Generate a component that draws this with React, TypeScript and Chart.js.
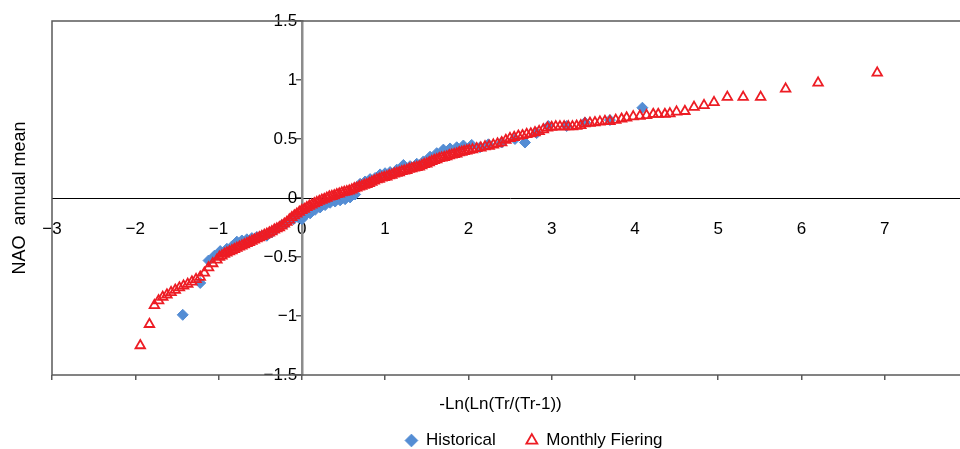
import React, { useEffect, useRef } from 'react';
import { Chart, registerables } from 'chart.js';

Chart.register(...registerables);

const xTickValues = [-3, -2, -1, 0, 1, 2, 3, 4, 5, 6, 7, 8];
const yTickValues = [-1.5, -1, -0.5, 0, 0.5, 1, 1.5];
const seriesNames = ['Historical', 'Monthly Fiering'];
const xTitle = '-Ln(Ln(Tr/(Tr-1))';
const yTitle = 'NAO  annual mean';

const historicalX = [
  -1.43, -1.22, -1.12, -1.05, -0.98, -0.90, -0.84, -0.78, -0.72, -0.66,
  -0.60, -0.54, -0.48, -0.42, -0.36, -0.30, -0.24, -0.18, -0.10, -0.04,
  0.00, 0.05, 0.10, 0.16, 0.22, 0.28, 0.34, 0.40, 0.46, 0.52,
  0.58, 0.64, 0.70, 0.76, 0.82, 0.88, 0.94, 1.00, 1.06, 1.14,
  1.22, 1.30, 1.38, 1.46, 1.54, 1.62, 1.70, 1.78, 1.86, 1.94,
  2.04, 2.14, 2.24, 2.40, 2.56, 2.68, 2.82, 2.96, 3.18, 3.40,
  3.70, 4.09,
];
const historicalY = [
  -0.99, -0.72, -0.53, -0.49, -0.45, -0.43, -0.41, -0.37, -0.36, -0.35,
  -0.34, -0.33, -0.32, -0.32, -0.29, -0.26, -0.23, -0.21, -0.18, -0.165,
  -0.18, -0.14, -0.13, -0.10, -0.08, -0.06, -0.04, -0.03, -0.02, -0.01,
  0.005, 0.03, 0.12, 0.14, 0.16, 0.17, 0.20, 0.21, 0.22, 0.24,
  0.28, 0.27, 0.29, 0.31, 0.35, 0.38, 0.41, 0.42, 0.43, 0.445,
  0.45, 0.43, 0.455, 0.47, 0.50, 0.47, 0.55, 0.61, 0.61, 0.64,
  0.66, 0.765,
];

const fieringX = [
  -1.94, -1.83, -1.77, -1.72, -1.67, -1.62, -1.57,
  -1.52, -1.47, -1.42, -1.37, -1.32, -1.27, -1.22, -1.17, -1.12, -1.07, -1.02,
  -0.99, -0.96, -0.93, -0.90, -0.87, -0.84, -0.81, -0.78, -0.75, -0.72,
  -0.69, -0.66, -0.63, -0.60, -0.57, -0.54, -0.51, -0.48, -0.45, -0.42,
  -0.39, -0.36, -0.33, -0.30, -0.27, -0.24, -0.21, -0.18, -0.15, -0.12,
  -0.09, -0.06, -0.03, 0.00, 0.03, 0.06, 0.09, 0.12, 0.15, 0.18,
  0.21, 0.24, 0.27, 0.30, 0.33, 0.36, 0.39, 0.42, 0.45, 0.48,
  0.51, 0.54, 0.57, 0.60, 0.63, 0.66, 0.69, 0.72, 0.75, 0.78,
  0.81, 0.84, 0.87, 0.90, 0.93, 0.96, 0.99, 1.02, 1.05, 1.08,
  1.11, 1.14, 1.17, 1.20, 1.23, 1.26, 1.29, 1.32, 1.35, 1.38,
  1.41, 1.44, 1.47, 1.50, 1.53, 1.56, 1.59, 1.62, 1.65, 1.68,
  1.71, 1.74, 1.77, 1.80, 1.83, 1.86, 1.89, 1.92, 1.95, 1.98, 2.01,
  2.05, 2.10, 2.15, 2.20, 2.25, 2.30, 2.35, 2.40, 2.45, 2.50,
  2.55, 2.60, 2.65, 2.70, 2.75, 2.80, 2.85, 2.90, 2.95, 3.00,
  3.05, 3.10, 3.15, 3.20, 3.25, 3.30, 3.35, 3.40,
  3.46, 3.52, 3.58, 3.64, 3.70, 3.77, 3.84, 3.90, 3.98, 4.06,
  4.14, 4.22, 4.28, 4.36, 4.42, 4.50, 4.60,
  4.71, 4.83, 4.95, 5.11, 5.30, 5.51, 5.81, 6.20, 6.91,
];
const fieringY = [
  -1.25, -1.07, -0.91, -0.87, -0.84, -0.82, -0.80,
  -0.78, -0.76, -0.745, -0.73, -0.71, -0.69, -0.67, -0.635, -0.59, -0.555, -0.525,
  -0.50, -0.49, -0.475, -0.465, -0.455, -0.445, -0.435, -0.425, -0.415, -0.405,
  -0.395, -0.385, -0.375, -0.365, -0.355, -0.345, -0.335, -0.325, -0.315, -0.305,
  -0.295, -0.285, -0.27, -0.26, -0.25, -0.235, -0.22, -0.205, -0.185, -0.165,
  -0.15, -0.135, -0.12, -0.105, -0.095, -0.08, -0.068, -0.058, -0.047, -0.037,
  -0.027, -0.017, -0.01, 0.0, 0.01, 0.015, 0.02, 0.03, 0.035, 0.045,
  0.05, 0.055, 0.06, 0.07, 0.08, 0.085, 0.095, 0.10, 0.11, 0.115,
  0.125, 0.135, 0.145, 0.155, 0.16, 0.17, 0.175, 0.18, 0.19, 0.195,
  0.205, 0.21, 0.215, 0.225, 0.23, 0.235, 0.245, 0.25, 0.255, 0.26,
  0.265, 0.275, 0.285, 0.29, 0.30, 0.31, 0.32, 0.325, 0.335, 0.34,
  0.345, 0.35, 0.36, 0.365, 0.37, 0.375, 0.385, 0.39, 0.395, 0.40, 0.405,
  0.41, 0.42, 0.425, 0.435, 0.44, 0.45, 0.46, 0.47, 0.49, 0.505,
  0.515, 0.525, 0.53, 0.54, 0.545, 0.555, 0.565, 0.58, 0.595, 0.60,
  0.605, 0.605, 0.605, 0.605, 0.605, 0.61, 0.615, 0.63,
  0.635, 0.64, 0.645, 0.65, 0.65, 0.66, 0.67, 0.68, 0.69, 0.695,
  0.70, 0.71, 0.71, 0.71, 0.715, 0.73, 0.735,
  0.77, 0.785, 0.81, 0.855, 0.855, 0.855, 0.925, 0.976, 1.06,
];

const BLUE = '#548DD4';
const RED = '#ED1C24';
const FRAME = '#5a5a5a';

const fmt = (v: number) => (v < 0 ? '\u2212' : '') + String(Math.abs(v));

const framePlugin = {
  id: 'plotFrame',
  beforeDatasetsDraw(chart: any) {
    const { ctx, chartArea: a } = chart;
    ctx.save();
    ctx.strokeStyle = FRAME;
    ctx.lineWidth = 1.5;
    ctx.strokeRect(a.left, a.top, a.right - a.left, a.bottom - a.top);
    ctx.restore();
  },
};

export default function App() {
  const ref = useRef<HTMLCanvasElement | null>(null);

  useEffect(() => {
    if (!ref.current) return;
    Chart.defaults.font.family = "'Liberation Sans', Arial, sans-serif";
    Chart.defaults.color = '#000';

    const chart = new Chart(ref.current, {
      type: 'scatter',
      data: {
        datasets: [
          {
            label: seriesNames[0],
            data: historicalX.map((x, i) => ({ x, y: historicalY[i] })),
            pointStyle: 'rectRot',
            pointRadius: 5.5,
            backgroundColor: BLUE,
            borderColor: BLUE,
            borderWidth: 1,
            order: 2,
          },
          {
            label: seriesNames[1],
            data: fieringX.map((x, i) => ({ x, y: fieringY[i] })),
            pointStyle: 'triangle',
            pointRadius: 5.5,
            backgroundColor: 'rgba(0,0,0,0)',
            borderColor: RED,
            borderWidth: 1.8,
            order: 1,
          },
        ],
      },
      options: {
        responsive: false,
        animation: false,
        devicePixelRatio: 1,
        events: [],
        layout: { padding: { top: 21, left: 0, right: 0, bottom: 0 } },
        scales: {
          x: {
            type: 'linear',
            position: 'bottom',
            min: -3,
            max: 8,
            afterBuildTicks: (s: any) => { s.ticks = xTickValues.map((v) => ({ value: v })); },
            ticks: { display: false },
            grid: { drawOnChartArea: false, drawTicks: true, tickLength: 5, color: FRAME, lineWidth: 1.5 },
            border: { display: false },
            title: {
              display: true,
              text: xTitle + '    ',
              font: { size: 17 },
              color: '#000',
              padding: { top: 0, bottom: -13 },
            },
            afterFit: (s: any) => { s.height = 27; },
          },
          xZero: {
            type: 'linear',
            axis: 'x',
            position: { y: 0 },
            min: -3,
            max: 8,
            afterBuildTicks: (s: any) => { s.ticks = xTickValues.map((v) => ({ value: v })); },
            ticks: {
              autoSkip: false,
              maxRotation: 0,
              padding: 21,
              font: { size: 17 },
              color: '#000',
              callback: (v: any) => fmt(Number(v)),
            },
            grid: { drawOnChartArea: false, drawTicks: false },
            border: { display: true, color: '#000', width: 1 },
          },
          y: {
            type: 'linear',
            position: { x: 0 },
            min: -1.5,
            max: 1.5,
            afterBuildTicks: (s: any) => { s.ticks = yTickValues.map((v) => ({ value: v })); },
            ticks: {
              autoSkip: false,
              padding: 1,
              font: { size: 17 },
              color: '#000',
              callback: (v: any) => fmt(Number(v)) + ' ',
            },
            grid: { drawOnChartArea: false, drawTicks: true, tickLength: 5, color: FRAME, lineWidth: 1.5 },
            border: { display: true, color: '#8c8c8c', width: 2.5 },
          },
          yLeft: {
            type: 'linear',
            axis: 'y',
            position: 'left',
            min: -1.5,
            max: 1.5,
            ticks: { display: false },
            grid: { display: false },
            border: { display: false },
            title: {
              display: true,
              text: yTitle,
              font: { size: 18 },
              color: '#000',
              padding: { top: 9, bottom: 0 },
            },
            afterFit: (s: any) => { s.width = 52; },
          },
          yRight: {
            type: 'linear',
            axis: 'y',
            position: 'right',
            min: -1.5,
            max: 1.5,
            ticks: { display: false },
            grid: { display: false },
            border: { display: false },
            afterFit: (s: any) => { s.width = 100; },
          },
        },
        plugins: {
          tooltip: { enabled: false },
          legend: {
            display: true,
            position: 'bottom',
            align: 'center',
            maxHeight: 47,
            labels: {
              usePointStyle: true,
              boxWidth: 12,
              boxHeight: 9,
              padding: 30,
              font: { size: 17 },
              color: '#000',
              sort: (a: any, b: any) => a.datasetIndex - b.datasetIndex,
            },
          },
        },
      } as any,
      plugins: [framePlugin],
    });

    return () => chart.destroy();
  }, []);

  return (
    <div
      style={{
        position: 'absolute',
        left: 0,
        top: 0,
        width: 960,
        height: 449,
        overflow: 'hidden',
        background: '#fff',
      }}
    >
      <canvas ref={ref} width={1068} height={449} style={{ display: 'block' }} />
    </div>
  );
}
